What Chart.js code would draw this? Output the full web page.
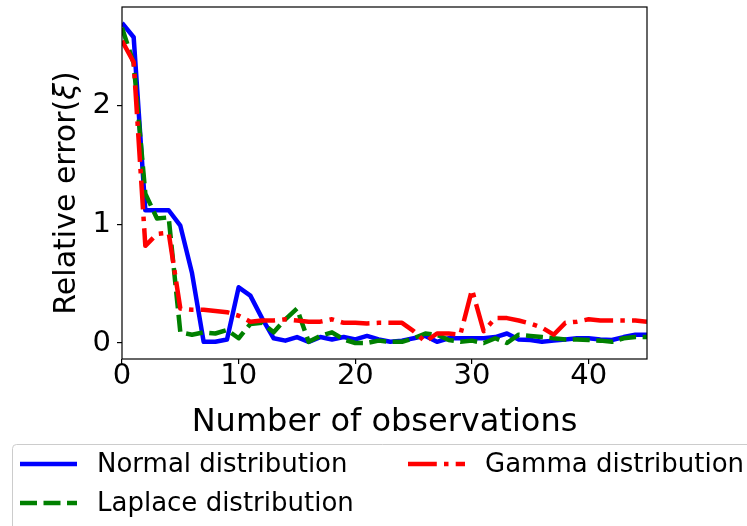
<!DOCTYPE html>
<html>
<head>
<meta charset="utf-8">
<script src="https://cdn.jsdelivr.net/npm/chart.js@4/dist/chart.umd.min.js"></script>
<style>
  html, body { margin: 0; padding: 0; background: #fff; }
  #wrap { width: 747px; height: 526px; }
</style>
</head>
<body>
<div id="wrap"><canvas id="errorChart" width="747" height="526"></canvas></div>
<script>
// number of observations on the x axis
const observations = [0, 1, 2, 3, 4, 5, 6, 7, 8, 9, 10, 11, 12, 13, 14, 15, 16, 17, 18, 19, 20, 21, 22,
    23, 24, 25, 26, 27, 28, 29, 30, 31, 32, 33, 34, 35, 36, 37, 38, 39, 40, 41, 42, 43, 44, 45];

// relative error per distribution
const normalErr = [2.70, 2.58, 1.12, 1.12, 1.12, 0.99, 0.59, 0.01, 0.01, 0.03, 0.47, 0.40, 0.21, 0.04,
    0.02, 0.05, 0.01, 0.05, 0.03, 0.05, 0.03, 0.06, 0.03, 0.01, 0.02, 0.04, 0.06, 0.01, 0.04, 0.04,
    0.04, 0.04, 0.05, 0.08, 0.03, 0.025, 0.01, 0.02, 0.03, 0.04, 0.04, 0.03, 0.025, 0.05, 0.07, 0.07];
const laplaceErr = [2.66, 2.36, 1.26, 1.05, 1.06, 0.09, 0.07, 0.09, 0.08, 0.11, 0.04, 0.16, 0.17, 0.09,
    0.20, 0.29, 0.01, 0.06, 0.09, 0.03, 0.00, 0.00, 0.02, 0.01, 0.01, 0.04, 0.08, 0.07, 0.025, 0.01,
    0.02, 0.00, 0.04, 0.00, 0.07, 0.06, 0.05, 0.04, 0.03, 0.03, 0.025, 0.02, 0.01, 0.04, 0.05, 0.05];
const gammaErr = [2.55, 2.37, 0.82, 0.92, 0.93, 0.29, 0.28, 0.28, 0.27, 0.26, 0.23, 0.18, 0.19, 0.19,
    0.20, 0.19, 0.18, 0.18, 0.20, 0.17, 0.17, 0.165, 0.17, 0.17, 0.17, 0.10, 0.01, 0.08, 0.08, 0.07,
    0.45, 0.10, 0.21, 0.21, 0.19, 0.165, 0.13, 0.07, 0.17, 0.18, 0.20, 0.19, 0.19, 0.19, 0.19, 0.18];

const seriesLabels = ['Normal distribution', 'Laplace distribution', 'Gamma distribution'];
const xTicks = [0, 10, 20, 30, 40];
const yTicks = [0, 1, 2];

const FONT = 'DejaVu Sans';

// y limits padded 5% around the data, like the matplotlib default
const allVals = normalErr.concat(laplaceErr, gammaErr);
const yLo = Math.min(...allVals);
const yHi = Math.max(...allVals);
const yPad = (yHi - yLo) * 0.05;

function toPoints(vals) {
    return observations.map((x, i) => ({ x: x, y: vals[i] }));
}

// box around the plot, rotated y label with italic xi, legend under the axes
const frameAndLegend = {
    id: 'frameAndLegend',
    afterDatasetsDraw(chart) {
        const { ctx, chartArea: a } = chart;
        ctx.save();
        ctx.strokeStyle = '#000';
        ctx.lineWidth = 1.2;
        ctx.strokeRect(a.left, a.top, a.right - a.left, a.bottom - a.top);
        ctx.restore();
    },
    afterDraw(chart) {
        const ctx = chart.ctx;
        ctx.save();

        // y label: "Relative error(" + italic xi + ")"
        const parts = [
            { t: 'Relative error(', f: '30px "' + FONT + '"' },
            { t: 'ξ', f: 'italic 30px "' + FONT + '"' },
            { t: ')', f: '30px "' + FONT + '"' }
        ];
        let total = 0;
        parts.forEach(p => { ctx.font = p.f; p.w = ctx.measureText(p.t).width; total += p.w; });
        ctx.translate(67, 193);
        ctx.rotate(-Math.PI / 2);
        ctx.fillStyle = '#000';
        ctx.textBaseline = 'middle';
        ctx.textAlign = 'left';
        let cx = -total / 2;
        parts.forEach(p => { ctx.font = p.f; ctx.fillText(p.t, cx, 0); cx += p.w; });
        ctx.setTransform(1, 0, 0, 1, 0, 0);

        // legend frame
        ctx.beginPath();
        ctx.roundRect(12.5, 444.5, 760, 100, 4);
        ctx.fillStyle = 'rgba(255,255,255,0.8)';
        ctx.fill();
        ctx.strokeStyle = '#cccccc';
        ctx.lineWidth = 1;
        ctx.stroke();

        const slots = [
            { x: 20, y: 464 },
            { x: 20, y: 503 },
            { x: 408, y: 464 }
        ];
        chart.data.datasets.forEach((ds, i) => {
            const s = slots[i];
            ctx.beginPath();
            ctx.setLineDash(ds.borderDash || []);
            ctx.lineCap = 'butt';
            ctx.strokeStyle = ds.borderColor;
            ctx.lineWidth = ds.borderWidth;
            ctx.moveTo(s.x, s.y);
            ctx.lineTo(s.x + 57, s.y);
            ctx.stroke();
            ctx.setLineDash([]);
            ctx.fillStyle = '#000';
            ctx.font = '26px "' + FONT + '"';
            ctx.textBaseline = 'middle';
            ctx.textAlign = 'left';
            ctx.fillText(ds.label, s.x + 77, s.y + 1);
        });
        ctx.restore();
    }
};

const ctx = document.getElementById('errorChart').getContext('2d');
const errorChart = new Chart(ctx, {
    type: 'line',
    data: {
        datasets: [{
            label: seriesLabels[0],
            data: toPoints(normalErr),
            borderColor: '#0000ff',
            borderWidth: 4.5,
            order: 3
        }, {
            label: seriesLabels[1],
            data: toPoints(laplaceErr),
            borderColor: '#008000',
            borderWidth: 4.5,
            borderDash: [17, 6.5],
            order: 2
        }, {
            label: seriesLabels[2],
            data: toPoints(gammaErr),
            borderColor: '#ff0000',
            borderWidth: 4.5,
            borderDash: [28.8, 7.2, 4.5, 7.2],
            order: 1
        }]
    },
    options: {
        responsive: false,
        animation: false,
        devicePixelRatio: 1,
        layout: { padding: { top: 7, right: 100, bottom: 84, left: 0 } },
        elements: {
            point: { radius: 0 },
            line: { tension: 0, fill: false, borderCapStyle: 'butt', borderJoinStyle: 'round' }
        },
        datasets: { line: { clip: 0 } },
        plugins: {
            legend: { display: false },
            tooltip: { enabled: false }
        },
        scales: {
            x: {
                type: 'linear',
                min: 0,
                max: 45,
                afterBuildTicks: (scale) => { scale.ticks = xTicks.map(v => ({ value: v })); },
                afterFit: (scale) => {
                    scale.height = 83;
                    scale.paddingLeft = 0;
                    scale.paddingRight = 0;
                },
                border: { display: false },
                grid: { drawOnChartArea: false, drawTicks: true, tickLength: 5, color: '#000', lineWidth: 1.2 },
                ticks: { color: '#000', padding: -5, maxRotation: 0, font: { family: FONT, size: 29 } },
                title: {
                    display: true,
                    text: 'Number of observations',
                    color: '#000',
                    padding: 0,
                    font: { family: FONT, size: 32 }
                }
            },
            y: {
                type: 'linear',
                min: yLo - yPad,
                max: yHi + yPad,
                afterBuildTicks: (scale) => { scale.ticks = yTicks.map(v => ({ value: v })); },
                afterFit: (scale) => {
                    scale.width = 122;
                    scale.paddingTop = 0;
                    scale.paddingBottom = 0;
                },
                border: { display: false },
                grid: { drawOnChartArea: false, drawTicks: true, tickLength: 5, color: '#000', lineWidth: 1.2 },
                ticks: { color: '#000', padding: 6, font: { family: FONT, size: 29 } },
                title: { display: false }
            }
        }
    },
    plugins: [frameAndLegend]
});
</script>
</body>
</html>
